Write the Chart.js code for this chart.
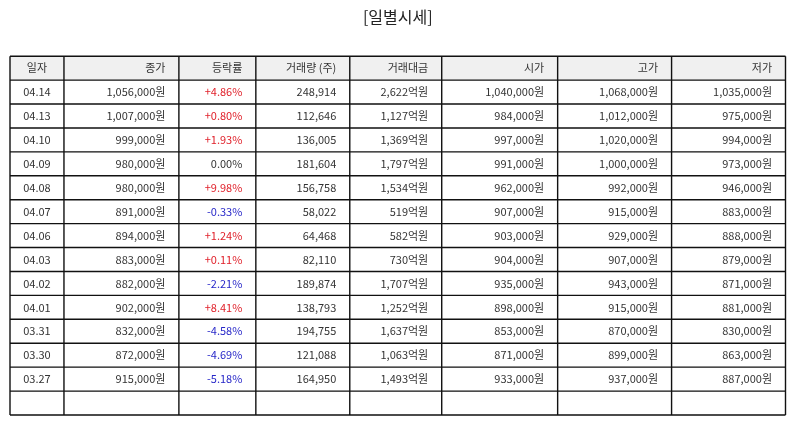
<!DOCTYPE html>
<html>
<head>
<meta charset="utf-8">
<script src="https://cdn.jsdelivr.net/npm/chart.js@4/dist/chart.umd.min.js"></script>
<style>
  html, body { margin: 0; padding: 0; background: #fff; }
  #wrap { width: 795px; height: 425px; }
</style>
</head>
<body>
<div id="wrap"><canvas id="myChart"></canvas></div>
<script>
// 일별시세 데이터
const headers = ['일자', '종가', '등락률', '거래량 (주)', '거래대금', '시가', '고가', '저가']
const dates = ['04.14', '04.13', '04.10', '04.09', '04.08', '04.07', '04.06', '04.03', '04.02', '04.01', '03.31', '03.30', '03.27']
const closes = [1056000, 1007000, 999000, 980000, 980000, 891000, 894000, 883000, 882000, 902000, 832000, 872000, 915000]
const changes = [4.86, 0.80, 1.93, 0.00, 9.98, -0.33, 1.24, 0.11, -2.21, 8.41, -4.58, -4.69, -5.18]
const volumes = [248914, 112646, 136005, 181604, 156758, 58022, 64468, 82110, 189874, 138793, 194755, 121088, 164950]
const amounts = [2622, 1127, 1369, 1797, 1534, 519, 582, 730, 1707, 1252, 1637, 1063, 1493]
const opens = [1040000, 984000, 997000, 991000, 962000, 907000, 903000, 904000, 935000, 898000, 853000, 871000, 933000]
const highs = [1068000, 1012000, 1020000, 1000000, 992000, 915000, 929000, 907000, 943000, 915000, 870000, 899000, 937000]
const lows = [1035000, 975000, 994000, 973000, 946000, 883000, 888000, 879000, 871000, 881000, 830000, 863000, 887000]

// 레이아웃 (열 너비, 빈 행 수)
const colWidths = [54, 115, 77, 94, 92, 116, 114, 114]
const emptyRows = 1
const FONT = '"Noto Sans CJK KR", "Noto Sans", sans-serif'

const won = v => v.toLocaleString('en-US') + '원'
const pct = v => (v > 0 ? '+' : '') + v.toFixed(2) + '%'

const colEdges = [0]
colWidths.forEach(w => colEdges.push(colEdges[colEdges.length - 1] + w))
const totalRows = 1 + dates.length + emptyRows

const rows = dates.map((d, i) => [
    d,
    won(closes[i]),
    pct(changes[i]),
    volumes[i].toLocaleString('en-US'),
    amounts[i].toLocaleString('en-US') + '억원',
    won(opens[i]),
    won(highs[i]),
    won(lows[i])
])

const tablePlugin = {
    id: 'tablePlugin',
    afterDraw(chart) {
        const ctx = chart.ctx
        const xs = chart.scales.x
        const ys = chart.scales.y
        const px = v => xs.getPixelForValue(v)
        const py = v => ys.getPixelForValue(v)

        ctx.save()
        // header background
        ctx.fillStyle = '#f0f0f0'
        ctx.fillRect(px(0), py(0), px(colEdges[colEdges.length - 1]) - px(0), py(1) - py(0))

        ctx.font = '11px ' + FONT
        ctx.textBaseline = 'middle'

        const drawRow = (cells, r, colorFn) => {
            const yMid = (py(r) + py(r + 1)) / 2
            cells.forEach((txt, c) => {
                ctx.fillStyle = colorFn ? colorFn(c) : '#333'
                if (c === 0) {
                    ctx.textAlign = 'center'
                    ctx.fillText(txt, (px(colEdges[0]) + px(colEdges[1])) / 2, yMid)
                } else {
                    ctx.textAlign = 'right'
                    ctx.fillText(txt, px(colEdges[c + 1]) - 13.5, yMid)
                }
            })
        }

        drawRow(headers, 0)
        rows.forEach((cells, i) => {
            drawRow(cells, i + 1, c => {
                if (c !== 2) return '#333'
                if (changes[i] > 0) return '#e0202a'
                if (changes[i] < 0) return '#2727c8'
                return '#333'
            })
        })

        // grid
        ctx.strokeStyle = '#111'
        ctx.lineWidth = 1.4
        ctx.beginPath()
        for (let r = 0; r <= totalRows; r++) {
            ctx.moveTo(px(0), py(r))
            ctx.lineTo(px(colEdges[colEdges.length - 1]), py(r))
        }
        colEdges.forEach(e => {
            ctx.moveTo(px(e), py(0))
            ctx.lineTo(px(e), py(totalRows))
        })
        ctx.stroke()
        ctx.restore()
    }
}

var ctx = document.getElementById('myChart')
var myChart = new Chart(ctx, {
    type: 'scatter',
    data: { datasets: [] },
    options: {
        responsive: true,
        maintainAspectRatio: false,
        animation: false,
        layout: { padding: { left: 10, right: 9.5, bottom: 10, top: 0 } },
        scales: {
            x: { type: 'linear', min: 0, max: colEdges[colEdges.length - 1], display: false },
            y: { type: 'linear', min: 0, max: totalRows, reverse: true, display: false }
        },
        plugins: {
            legend: { display: false },
            tooltip: { enabled: false },
            title: {
                display: true,
                text: '[일별시세]',
                color: '#222',
                font: { family: FONT, size: 16, weight: 'normal' },
                padding: { top: 7, bottom: 30 }
            }
        }
    },
    plugins: [tablePlugin]
})
</script>
</body>
</html>
